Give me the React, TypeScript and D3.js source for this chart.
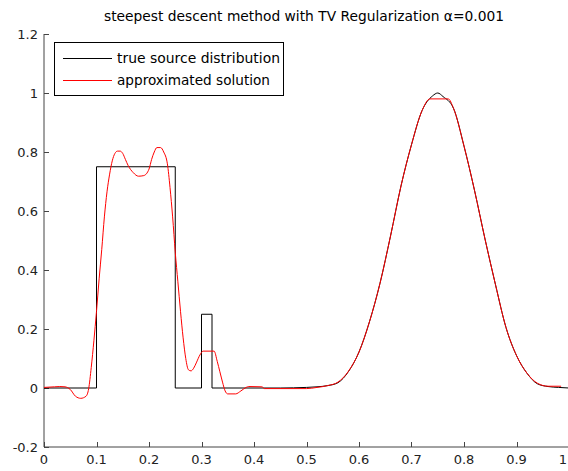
import React from 'react';
import * as d3 from 'd3';

// true source distribution: step pieces, then a gaussian bump
const trueStepX = [0, 0.1, 0.1, 0.25, 0.25, 0.3, 0.3, 0.32, 0.32, 0.45];
const trueStepY = [0, 0, 0.75, 0.75, 0, 0, 0.25, 0.25, 0, 0];
const trueBumpX = [0.45, 0.5, 0.52, 0.54, 0.56, 0.58, 0.6, 0.62, 0.64, 0.66, 0.68, 0.7, 0.72, 0.74, 0.75, 0.76, 0.78, 0.8, 0.82, 0.84, 0.86, 0.88, 0.9, 0.92, 0.94, 0.96, 0.98, 1.0];
const trueBumpY = [0, 0.002, 0.004, 0.008, 0.018, 0.056, 0.122, 0.225, 0.355, 0.515, 0.685, 0.825, 0.94, 0.99, 1.0, 0.988, 0.948, 0.82, 0.67, 0.505, 0.35, 0.205, 0.11, 0.05, 0.014, 0.005, 0.002, 0];

// approximated solution
const approxX = [0, 0.02, 0.03, 0.04, 0.05, 0.06, 0.07, 0.08, 0.085, 0.09, 0.095, 0.1, 0.105, 0.11, 0.115, 0.12, 0.125, 0.13, 0.135, 0.14, 0.145, 0.15, 0.155, 0.16, 0.17, 0.18, 0.19, 0.2, 0.205, 0.21, 0.215, 0.222, 0.228, 0.235, 0.24, 0.245, 0.25, 0.255, 0.26, 0.265, 0.27, 0.275, 0.28, 0.285, 0.29, 0.297, 0.303, 0.324, 0.33, 0.335, 0.34, 0.345, 0.35, 0.365, 0.375, 0.385, 0.39, 0.415, 0.42, 0.5, 0.52, 0.54, 0.56, 0.58, 0.6, 0.62, 0.64, 0.66, 0.68, 0.7, 0.72, 0.735, 0.77, 0.78, 0.8, 0.82, 0.84, 0.86, 0.88, 0.9, 0.92, 0.94, 0.96, 0.985];
const approxY = [0.002, 0.004, 0.005, 0.004, -0.005, -0.028, -0.035, -0.028, -0.003, 0.07, 0.16, 0.26, 0.37, 0.47, 0.58, 0.665, 0.725, 0.77, 0.795, 0.803, 0.803, 0.795, 0.775, 0.755, 0.73, 0.718, 0.72, 0.742, 0.775, 0.8, 0.815, 0.815, 0.8, 0.76, 0.68, 0.58, 0.46, 0.36, 0.26, 0.17, 0.1, 0.062, 0.058, 0.067, 0.085, 0.112, 0.125, 0.125, 0.09, 0.055, 0.02, -0.01, -0.02, -0.02, -0.01, 0.002, 0.005, 0.004, -0.002, -0.002, 0.002, 0.008, 0.02, 0.057, 0.122, 0.225, 0.355, 0.515, 0.685, 0.825, 0.94, 0.98, 0.98, 0.948, 0.82, 0.67, 0.505, 0.35, 0.205, 0.11, 0.05, 0.016, 0.006, 0.006];

const xTicks = [0, 0.1, 0.2, 0.3, 0.4, 0.5, 0.6, 0.7, 0.8, 0.9, 1];
const yTicks = [-0.2, 0, 0.2, 0.4, 0.6, 0.8, 1, 1.2];
const legendLabels = ['true source distribution', 'approximated solution'];
const legendWidths = [163, 153];
const title = 'steepest descent method with TV Regularization \u03b1=0.001';

const W = 568, H = 471;
const font = '"DejaVu Sans", Arial, sans-serif';

export default function App() {
  const x = d3.scaleLinear().domain([0, 1]).range([44, 569]);
  const y = d3.scaleLinear().domain([-0.2, 1.2]).range([447, 34]);
  const mk = (xs: number[], ys: number[], curve: d3.CurveFactory = d3.curveLinear) =>
    d3.line<number>().x(d => x(xs[d])).y(d => y(ys[d])).curve(curve)(d3.range(xs.length)) || '';

  const axisColor = '#444';
  return (
    <svg width={W} height={H} style={{ position: 'absolute', left: 0, top: 0, background: '#fff' }} fontFamily={font}>
      <rect width={W} height={H} fill="#fff" />
      <text x={304} y={21} textAnchor="middle" fontSize={13.5} fill="#000"
        textLength={400} lengthAdjust="spacingAndGlyphs">{title}</text>

      {/* axes */}
      <line x1={x(0)} x2={x(0)} y1={y(1.2)} y2={y(-0.2)} stroke={axisColor} strokeWidth={1} />
      <line x1={x(0)} x2={x(1)} y1={y(-0.2)} y2={y(-0.2)} stroke={axisColor} strokeWidth={1} />
      {yTicks.map(t => (
        <g key={'y' + t}>
          <line x1={x(0)} x2={x(0) + 5} y1={Math.round(y(t)) + 0.5} y2={Math.round(y(t)) + 0.5} stroke={axisColor} />
          <text x={x(0) - 6} y={y(t)} dy="0.35em" textAnchor="end" fontSize={13} fill="#222">{t}</text>
        </g>
      ))}
      {xTicks.map(t => (
        <g key={'x' + t}>
          <line x1={Math.round(x(t)) + 0.5} x2={Math.round(x(t)) + 0.5} y1={y(-0.2)} y2={y(-0.2) - 5} stroke={axisColor} />
          <text x={t === 1 ? 567 : x(t)} y={y(-0.2) + 17} textAnchor={t === 1 ? 'end' : 'middle'} fontSize={13} fill="#222">{t}</text>
        </g>
      ))}

      <path d={mk(trueStepX, trueStepY)} fill="none" stroke="#000" strokeWidth={1} />
      <path d={mk(trueBumpX, trueBumpY, d3.curveMonotoneX)} fill="none" stroke="#000" strokeWidth={1} />
      <path d={mk(approxX, approxY, d3.curveMonotoneX)} fill="none" stroke="#ff0000" strokeWidth={1} />

      {/* legend */}
      <rect x={54.5} y={42.5} width={229} height={53} fill="#fff" stroke="#000" strokeWidth={1} />
      {legendLabels.map((l, i) => (
        <g key={l}>
          <line x1={63} x2={112} y1={58.5 + i * 22} y2={58.5 + i * 22} stroke={i === 0 ? '#000' : '#ff0000'} />
          <text x={117} y={58 + i * 22} dy="0.35em" fontSize={13.5} fill="#000"
            textLength={legendWidths[i]} lengthAdjust="spacingAndGlyphs">{l}</text>
        </g>
      ))}
    </svg>
  );
}
